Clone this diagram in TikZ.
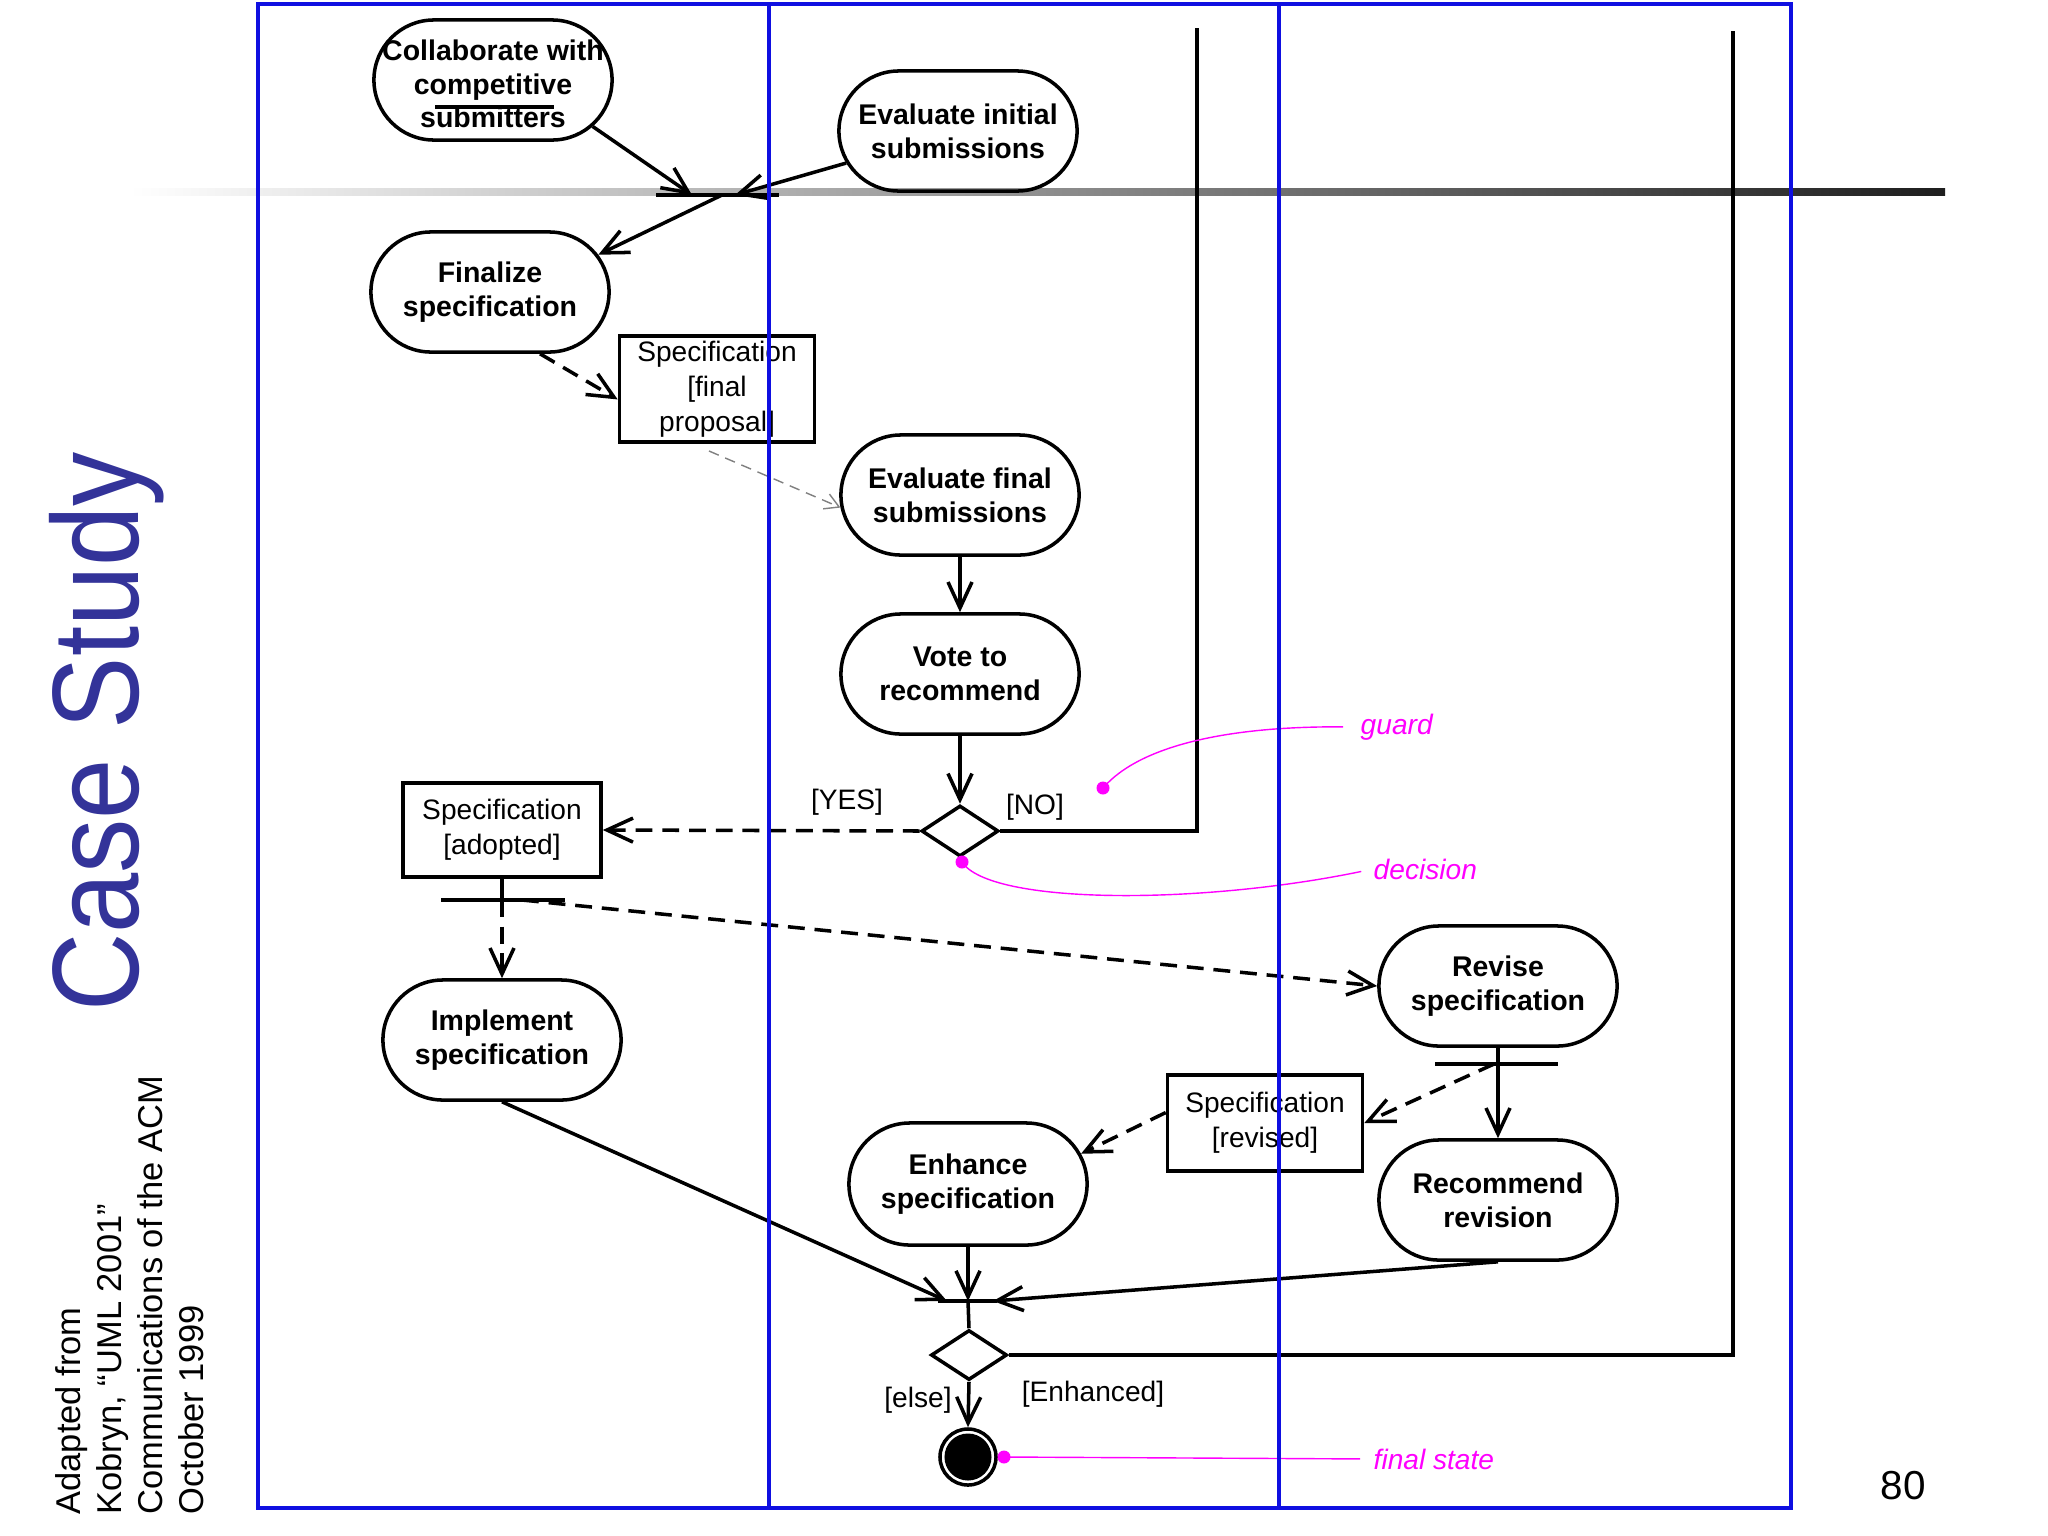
\documentclass[tikz,border=0pt]{standalone}
\usepackage{fontspec}
\setmainfont{Liberation Sans}
\usepackage{graphicx}
\usetikzlibrary{arrows.meta,shapes.misc,shapes.geometric}
\definecolor{laneblue}{RGB}{15,15,225}
\definecolor{csblue}{RGB}{51,51,153}
\definecolor{mag}{RGB}{255,0,255}
\definecolor{gdark}{RGB}{30,30,30}
\begin{document}
\begin{tikzpicture}[x=0.01cm,y=-0.01cm,
  ln/.style={line width=1pt},
  arr/.style={ln,-{Straight Barb[length=0.26cm,width=0.24cm]}},
  dsh/.style={dash pattern=on 4.8pt off 2.8pt},
  act/.style={rounded rectangle, draw, ln, minimum width=2.38cm, minimum height=1.2cm, inner sep=0pt, align=center, font=\bfseries\fontsize{8.1}{9.6}\selectfont},
  obj/.style={draw, ln, inner sep=0pt, align=center, font=\fontsize{8}{9.9}\selectfont},
  dec/.style={diamond, draw, ln, minimum width=0.77cm, minimum height=0.51cm, inner sep=0pt},
  barline/.style={line width=1.3pt},
  lbl/.style={font=\fontsize{8}{9.6}\selectfont, inner sep=0pt},
  note/.style={text=mag, font=\itshape\fontsize{8}{9.6}\selectfont, anchor=west, inner sep=0pt},
  noteline/.style={draw=mag, line width=0.4pt},
  lanestyle/.style={draw=laneblue, line width=1.1pt}
]
\useasboundingbox (0,0) rectangle (2048,1536);
\fill[white] (0,0) rectangle (2048,1536);

% gradient rule
\shade[left color=white, right color=gdark] (130,188) rectangle (1945,195);

% side texts
\node[rotate=90, anchor=base, inner sep=0pt, text=csblue, font=\fontsize{35}{40}\selectfont] (title) at (138,732) {\scalebox{0.88}[1]{Case Study}};
\node[rotate=90, anchor=north west, align=left, inner sep=0pt, font=\fontsize{9.8}{11.6}\selectfont] (source) at (55,1515) {Adapted from\\Kobryn, “UML 2001”\\Communications of the ACM\\October 1999};
\node[inner sep=0pt, font=\fontsize{11.5}{12}\selectfont] (pagenum) at (1903,1486) {80};

% activity nodes
\node[act, label={[align=center, inner sep=0pt, yshift=-0.04cm, font=\bfseries\fontsize{8.1}{9.5}\selectfont]center:Collaborate with\\competitive\\submitters}] (collab) at (493,80) {};
\draw[line width=0.9pt] (435,107) -- (554,107);
\node[act] (evalinit) at (958,131) {Evaluate initial\\submissions};
\node[act] (finalize) at (490,292) {Finalize\\specification};
\node[obj, minimum width=1.95cm, minimum height=1.06cm] (specfinal) at (717,389) {Specification\\{}[final\\proposal]};
\node[act] (evalfinal) at (960,495) {Evaluate final\\submissions};
\node[act] (vote) at (960,674) {Vote to\\recommend};
\node[dec] (dec1) at (960,831) {};
\node[obj, minimum width=1.98cm, minimum height=0.94cm] (specadopt) at (502,830) {Specification\\{}[adopted]};
\node[act] (implement) at (502,1040) {Implement\\specification};
\node[act] (revise) at (1498,986) {Revise\\specification};
\node[act] (recommend) at (1498,1200) {Recommend\\revision};
\node[obj, minimum width=1.95cm, minimum height=0.96cm] (specrev) at (1265,1123) {Specification\\{}[revised]};
\node[act, minimum height=1.22cm] (enhance) at (968,1184) {Enhance\\specification};
\node[dec, minimum width=0.76cm, minimum height=0.50cm] (dec2) at (969,1355) {};
\node[circle, draw, ln, minimum size=0.56cm, inner sep=0pt] (final) at (968,1457) {};
\fill (final.center) circle[radius=0.235cm];

% bars and coordinates
\coordinate (b0L) at (656,195); \coordinate (b0R) at (779,195);
\coordinate (b0a) at (692,195); \coordinate (b0b) at (735,195); \coordinate (b0c) at (722,195);
\draw[barline] (b0L) -- (b0R);
\coordinate (b1L) at (441,900); \coordinate (b1R) at (565,900);
\coordinate (b1c) at (502,900); \coordinate (b1d) at (522,900);
\draw[barline] (b1L) -- (b1R);
\coordinate (b2L) at (1435,1064); \coordinate (b2R) at (1558,1064);
\coordinate (b2d) at (1494,1064);
\draw[barline] (b2L) -- (b2R);
\coordinate (b3L) at (938,1301); \coordinate (b3R) at (997,1301);
\coordinate (b3a) at (947,1301); \coordinate (b3c) at (968,1301); \coordinate (b3b) at (993,1301);
\draw[barline] (b3L) -- (b3R);
\coordinate (noTop) at (1197,28);
\coordinate (enhTop) at (1733,31);
\coordinate (sfd) at (709,451);

% connectors
\draw[arr] (collab.-25) -- (b0a);
\draw[arr] (evalinit.196) -- (b0b);
\draw[arr] (b0c) -- (finalize.19);
\draw[arr, dsh] (finalize.-51) -- (specfinal.186);
\draw[line width=0.4pt, draw=gray, dash pattern=on 3pt off 2pt, -{Straight Barb[length=0.14cm,width=0.16cm]}] (sfd) -- (evalfinal.186);
\draw[arr] (evalfinal.south) -- (vote.north);
\draw[arr] (vote.south) -- (dec1.north);
\draw[ln] (dec1.east) -| (noTop);
\draw[arr, dsh] (dec1.west) -- (specadopt.east);
\draw[ln] (specadopt.south) -- (b1c);
\draw[arr, dsh] (b1c) -- (implement.north);
\draw[arr, dsh] (b1d) -- (revise.west);
\draw[arr] (revise.south) -- (recommend.north);
\draw[arr, dsh] (b2d) -- (specrev.east);
\draw[arr, dsh] (specrev.174) -- (enhance.15);
\draw[arr] (implement.south) -- (b3a);
\draw[arr] (enhance.south) -- (b3c);
\draw[arr] (recommend.south) -- (b3b);
\draw[ln] (b3c) -- (dec2.north);
\draw[ln] (dec2.east) -| (enhTop);
\draw[arr] (dec2.south) -- (final.north);

% guard labels
\node[lbl] (yes) at (847,802) {[YES]};
\node[lbl] (no) at (1035,807) {[NO]};
\node[lbl] (else) at (918,1400) {[else]};
\node[lbl] (enh) at (1093,1394) {[Enhanced]};

% annotations
\coordinate (gdot) at (1103,788);
\coordinate (ddot) at (962,862);
\coordinate (fdot) at (1004,1457);
\node[note] (guard) at (1360,727) {guard};
\node[note] (decision) at (1373,869) {decision};
\node[note] (fstate) at (1373,1459) {final state};
\draw[noteline, shorten >=0.17cm] (gdot) .. controls (1140,745) and (1230,726) .. (guard.west);
\draw[noteline, shorten >=0.12cm] (ddot) .. controls (990,905) and (1200,905) .. (decision.west);
\draw[noteline, shorten >=0.13cm] (fdot) -- (fstate.west);
\fill[mag] (gdot) circle[radius=0.065cm];
\fill[mag] (ddot) circle[radius=0.065cm];
\fill[mag] (fdot) circle[radius=0.065cm];

% swimlanes
\draw[lanestyle] (258,4) rectangle (1791,1508);
\draw[lanestyle] (769,4) -- (769,1508);
\draw[lanestyle] (1279,4) -- (1279,1508);
\end{tikzpicture}
\end{document}
